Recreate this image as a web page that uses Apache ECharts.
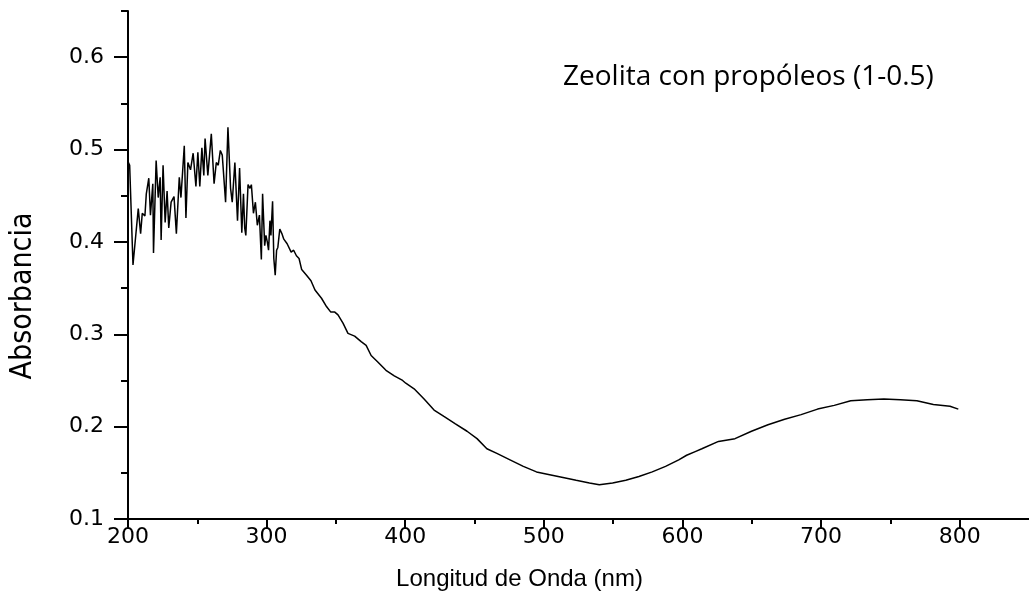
<!DOCTYPE html>
<html>
<head>
<meta charset="utf-8">
<script src="https://cdn.jsdelivr.net/npm/echarts@6/dist/echarts.min.js"></script>
<style>
html, body { margin: 0; padding: 0; background: #fff; }
#main { width: 1029px; height: 596px; }
</style>
</head>
<body>
<div id="main"></div>
<script>
var wavelength = [
  200, 201.2, 203.6, 207.4, 209.1, 210.3, 212.2, 213.2, 215.0, 216.2,
  217.9, 218.4, 220.3, 221.8, 223.2, 223.9, 225.3, 226.8, 228.2, 229.4,
  231.1, 233.2, 234.9, 237.0, 238.2, 240.6, 241.8, 243.2, 245.1, 247.0,
  249.0, 250.4, 251.8, 253.3, 254.7, 255.6, 257.6, 259.0, 260.1, 262.1,
  263.7, 265.1, 266.6, 268.0, 270.4, 272.1, 274.0, 275.2, 277.1, 279.0,
  280.5, 282.1, 283.3, 284.2, 285.0, 286.6, 288.0, 289.0, 290.5, 291.9,
  293.3, 294.8, 296.2, 297.1, 298.6, 299.5, 300.5, 301.4, 302.4, 303.1,
  304.3, 305.2, 306.2, 307.2, 308.1, 309.5, 311.0, 312.4, 313.8, 314.8,
  316.2, 317.7, 319.5, 321.5, 323.4, 325.3, 328.8, 332.0, 334.9, 339.6,
  343.2, 346.3, 349.2, 351.5, 355.1, 358.7, 363.5, 368.2, 371.8, 375.4,
  380.2, 386.1, 392.1, 398.1, 400.4, 406.4, 413.6, 420.8, 427.9, 436.2,
  444.6, 451.8, 458.9, 466.1, 475.6, 485.2, 494.7, 504.2, 513.8, 523.3,
  532.9, 540.0, 549.6, 559.1, 568.6, 578.2, 587.8, 597.3, 603.0, 609.2,
  614.0, 626.0, 637.9, 649.8, 661.7, 673.7, 685.6, 697.5, 709.5, 721.4,
  733.3, 745.3, 757.2, 769.1, 781.0, 793.0, 799.0
];
var absorbance = [
  0.487, 0.483, 0.375, 0.436, 0.409, 0.431, 0.428, 0.452, 0.469, 0.429,
  0.463, 0.388, 0.488, 0.448, 0.470, 0.402, 0.483, 0.421, 0.455, 0.415,
  0.443, 0.449, 0.409, 0.470, 0.448, 0.504, 0.426, 0.486, 0.478, 0.496,
  0.460, 0.497, 0.460, 0.502, 0.472, 0.512, 0.472, 0.470, 0.517, 0.463,
  0.486, 0.483, 0.499, 0.494, 0.443, 0.524, 0.458, 0.443, 0.486, 0.423,
  0.480, 0.410, 0.452, 0.415, 0.407, 0.462, 0.458, 0.462, 0.431, 0.443,
  0.418, 0.429, 0.381, 0.452, 0.396, 0.407, 0.400, 0.391, 0.423, 0.407,
  0.444, 0.382, 0.364, 0.391, 0.394, 0.414, 0.409, 0.403, 0.402, 0.398,
  0.400, 0.389, 0.391, 0.385, 0.382, 0.370, 0.364, 0.358, 0.348, 0.339,
  0.330, 0.324, 0.324, 0.321, 0.312, 0.301, 0.298, 0.292, 0.288, 0.277,
  0.270, 0.261, 0.255, 0.250, 0.247, 0.241, 0.230, 0.218, 0.211, 0.203,
  0.195, 0.187, 0.176, 0.171, 0.164, 0.157, 0.151, 0.148, 0.145, 0.142,
  0.139, 0.137, 0.139, 0.142, 0.146, 0.151, 0.157, 0.164, 0.169, 0.173,
  0.176, 0.184, 0.187, 0.195, 0.202, 0.208, 0.213, 0.219, 0.223, 0.228,
  0.229, 0.230, 0.229, 0.228, 0.224, 0.222, 0.219
];
var xMajorTicks = [200, 300, 400, 500, 600, 700, 800];
var xMinorTicks = [250, 350, 450, 550, 650, 750];
var yMajorTicks = [0.1, 0.2, 0.3, 0.4, 0.5, 0.6];
var yMinorTicks = [0.15, 0.25, 0.35, 0.45, 0.55, 0.65];

var spectrum = wavelength.map(function (w, i) { return [w, absorbance[i]]; });

var myChart = echarts.init(document.getElementById('main'));
var tickFont = { color: '#000', fontFamily: 'DejaVu Sans', fontSize: 22 };

myChart.setOption({
    animation: false,
    backgroundColor: '#fff',
    grid: { left: 128, right: -7, top: 11, bottom: 77, containLabel: false },
    xAxis: [{
        type: 'value', min: 200, max: 850, interval: 100, position: 'bottom',
        name: 'Longitud de Onda (nm)', nameLocation: 'middle', nameGap: 48,
        nameTextStyle: { color: '#000', fontFamily: 'Liberation Sans', fontSize: 24, padding: [0, 118, 0, 0] },
        axisLine: { lineStyle: { color: '#000', width: 2 } },
        axisTick: { customValues: xMajorTicks, length: 10, lineStyle: { color: '#000', width: 2 } },
        axisLabel: Object.assign({ customValues: xMajorTicks, margin: 7 }, tickFont),
        splitLine: { show: false }
    }, {
        type: 'value', min: 200, max: 850, interval: 50, position: 'bottom',
        axisLine: { show: false },
        axisTick: { customValues: xMinorTicks, length: 5, lineStyle: { color: '#000', width: 2 } },
        axisLabel: { show: false },
        splitLine: { show: false }
    }],
    yAxis: [{
        type: 'value', min: 0.1, max: 0.65, interval: 0.1, position: 'left',
        name: 'Absorbancia', nameLocation: 'middle', nameGap: 90,
        nameTextStyle: { color: '#000', fontFamily: '"DejaVu Sans Condensed", "Liberation Sans"', fontSize: 30, padding: [0, 62, 0, 0] },
        axisLine: { show: true, lineStyle: { color: '#000', width: 2 } },
        axisTick: { show: true, customValues: yMajorTicks, length: 14, lineStyle: { color: '#000', width: 2 } },
        axisLabel: Object.assign({ customValues: yMajorTicks, margin: 24 }, tickFont),
        splitLine: { show: false }
    }, {
        type: 'value', min: 0.1, max: 0.65, interval: 0.05, position: 'left',
        axisLine: { show: false },
        axisTick: { show: true, customValues: yMinorTicks, length: 7, lineStyle: { color: '#000', width: 2 } },
        axisLabel: { show: false },
        splitLine: { show: false }
    }],
    graphic: [{
        type: 'text', left: 563, top: 63,
        style: { text: 'Zeolita con propóleos (1-0.5)', fill: '#000', font: '28px "Open Sans"' }
    }],
    series: [{
        name: 'Absorbancia',
        type: 'line',
        xAxisIndex: 0, yAxisIndex: 0,
        data: spectrum,
        showSymbol: false,
        lineStyle: { color: '#000', width: 1.5 }
    }]
});
</script>
</body>
</html>
